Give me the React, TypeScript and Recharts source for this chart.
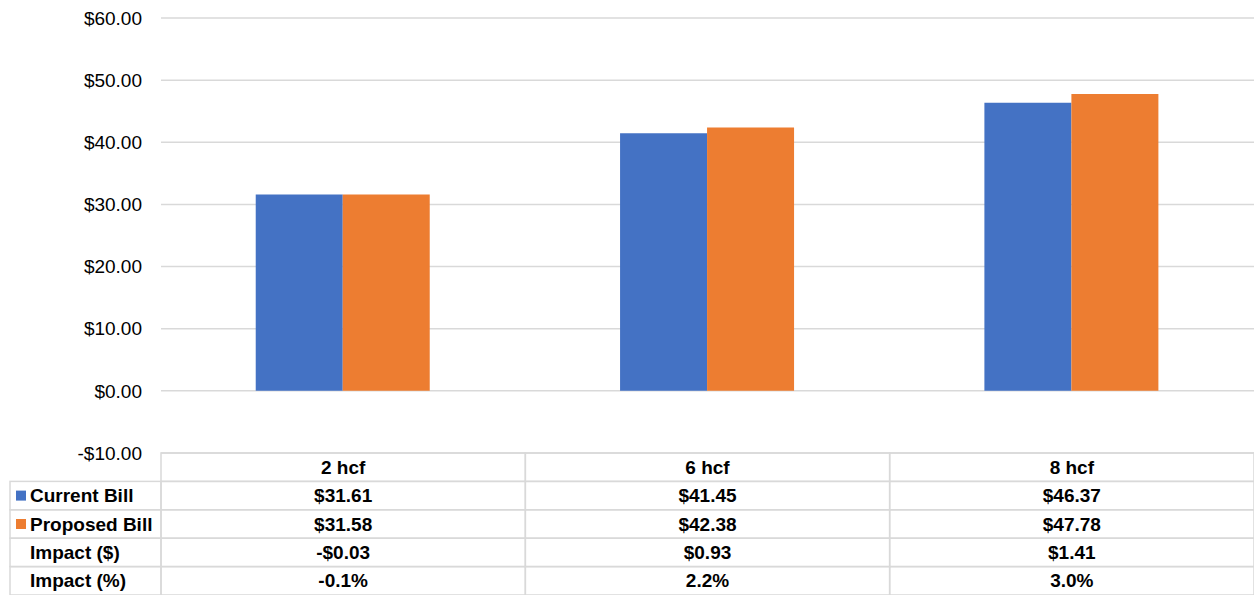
import { BarChart, Bar, XAxis, YAxis, CartesianGrid } from 'recharts';

const categories = ['2 hcf', '6 hcf', '8 hcf'];
const currentBill = [31.61, 41.45, 46.37];
const proposedBill = [31.58, 42.38, 47.78];
const impactDollar = [-0.03, 0.93, 1.41];
const impactPct = [-0.1, 2.2, 3.0];
const yTicks = [-10, 0, 10, 20, 30, 40, 50, 60];

const BLUE = '#4472C4';
const ORANGE = '#ED7D31';
const GRID = '#d9d9d9';
const FONT = '"Liberation Sans", Arial, sans-serif';

const WIDTH = 1254;
const HEIGHT = 595;
const Y_AXIS_W = 161;
const TABLE_H = 142;
const ROW_H = TABLE_H / 5;
const COL_W = (WIDTH - Y_AXIS_W) / categories.length;
const LABEL_LEFT = 10;

const money = (v: number) => (v < 0 ? `-$${Math.abs(v).toFixed(2)}` : `$${v.toFixed(2)}`);
const pct = (v: number) => `${v.toFixed(1)}%`;

const data = categories.map((name, i) => ({
  name,
  current: currentBill[i],
  proposed: proposedBill[i],
}));

const rowLabels = [
  { label: 'Current Bill', color: BLUE },
  { label: 'Proposed Bill', color: ORANGE },
  { label: 'Impact ($)', color: null },
  { label: 'Impact (%)', color: null },
];

// the data table under the plot is drawn by the x axis ticks, one column per category
const TableTick = ({ x, y, payload }: any) => {
  const i = payload.index;
  const left = x - COL_W / 2;
  const cells = [
    categories[i],
    money(currentBill[i]),
    money(proposedBill[i]),
    money(impactDollar[i]),
    pct(impactPct[i]),
  ];
  const textStyle = { fontFamily: FONT, fontSize: 19, fontWeight: 700, fill: '#000' };
  return (
    <g>
      {cells.map((c, r) => (
        <g key={r}>
          <rect x={left} y={y + r * ROW_H} width={COL_W} height={ROW_H} fill="none" stroke={GRID} strokeWidth={1.5} />
          <text x={x} y={y + r * ROW_H + ROW_H / 2} textAnchor="middle" dominantBaseline="central" style={textStyle}>
            {c}
          </text>
        </g>
      ))}
      {i === 0 &&
        rowLabels.map((row, r) => {
          const top = y + (r + 1) * ROW_H;
          return (
            <g key={`l-${r}`}>
              <rect x={LABEL_LEFT} y={top} width={left - LABEL_LEFT} height={ROW_H} fill="none" stroke={GRID} strokeWidth={1.5} />
              {row.color && <rect x={16} y={top + ROW_H / 2 - 5} width={10} height={10} fill={row.color} />}
              <text x={30} y={top + ROW_H / 2} dominantBaseline="central" style={textStyle}>
                {row.label}
              </text>
            </g>
          );
        })}
    </g>
  );
};

export default function App() {
  return (
    <div style={{ position: 'absolute', left: 0, top: 0, background: '#fff' }}>
      <BarChart
        width={WIDTH}
        height={HEIGHT}
        data={data}
        margin={{ top: 18, right: 0, bottom: 0, left: 0 }}
        barCategoryGap="26%"
        barGap={0}
      >
        <CartesianGrid vertical={false} stroke={GRID} strokeWidth={1.5} />
        <XAxis
          dataKey="name"
          height={TABLE_H}
          axisLine={false}
          tickLine={false}
          tickSize={0}
          tickMargin={0}
          interval={0}
          tick={<TableTick />}
        />
        <YAxis
          width={Y_AXIS_W}
          domain={[-10, 60]}
          ticks={yTicks}
          axisLine={false}
          tickLine={false}
          tickSize={0}
          tickMargin={19}
          tickFormatter={(v: number) => money(v)}
          tick={{ fontFamily: FONT, fontSize: 19, fill: '#000' }}
        />
        <Bar dataKey="current" fill={BLUE} isAnimationActive={false} />
        <Bar dataKey="proposed" fill={ORANGE} isAnimationActive={false} />
      </BarChart>
    </div>
  );
}
